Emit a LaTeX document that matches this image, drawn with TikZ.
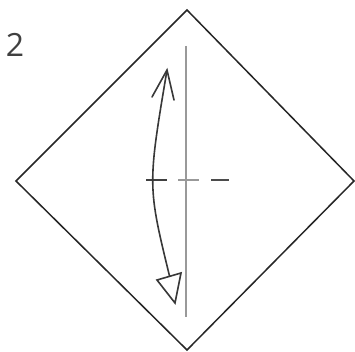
\documentclass[tikz,border=0pt]{standalone}
\usepackage{fontspec}
\setsansfont{Open Sans}
\usetikzlibrary{arrows.meta}
\begin{document}
\begin{tikzpicture}[x=1pt,y=-1pt,
  edge/.style={draw=black!85,line width=1.5pt,line join=miter},
  crease/.style={draw=black!40,line width=1.3pt},
  arcline/.style={draw=black!78,line width=1.6pt},
  tickmark/.style={draw=black!75,line width=1.3pt}]
\useasboundingbox (0,0) rectangle (355,352);
\fill[white] (0,0) rectangle (355,352);
\coordinate (T) at (187,10);
\coordinate (L) at (16,181);
\coordinate (R) at (354,181);
\coordinate (B) at (187,350);
\draw[edge] (T) -- (R) -- (B) -- (L) -- cycle;
% step number
\node[font=\sffamily\fontsize{32}{32}\selectfont,text=black!75,inner sep=0pt] (num) at (15,45) {2};
% vertical crease
\coordinate (c1) at (186,46);
\coordinate (c2) at (186,317);
\draw[crease] (c1) -- (c2);
% horizontal marks
\coordinate (d1a) at (146,180); \coordinate (d1b) at (167,180);
\coordinate (d2a) at (178,180); \coordinate (d2b) at (199,180);
\coordinate (d3a) at (211,180); \coordinate (d3b) at (229,180);
\draw[tickmark] (d1a) -- (d1b);
\draw[crease] (d2a) -- (d2b);
\draw[tickmark,draw=black!70] (d3a) -- (d3b);
% arrow arc
\coordinate (top) at (167,70);
\coordinate (bot) at (170,278);
\draw[arcline] (top) .. controls (147.5,186) .. (bot);
% top open barbs
\coordinate (b1) at (152,97);
\coordinate (b2) at (174,100);
\draw[arcline,line cap=round] (b1) -- (top) -- (b2);
% bottom hollow triangle head
\coordinate (h1) at (157,280);
\coordinate (h2) at (181,273);
\coordinate (h3) at (175,303);
\draw[arcline,fill=white,line join=miter] (h1) -- (h2) -- (h3) -- cycle;
\end{tikzpicture}
\end{document}
